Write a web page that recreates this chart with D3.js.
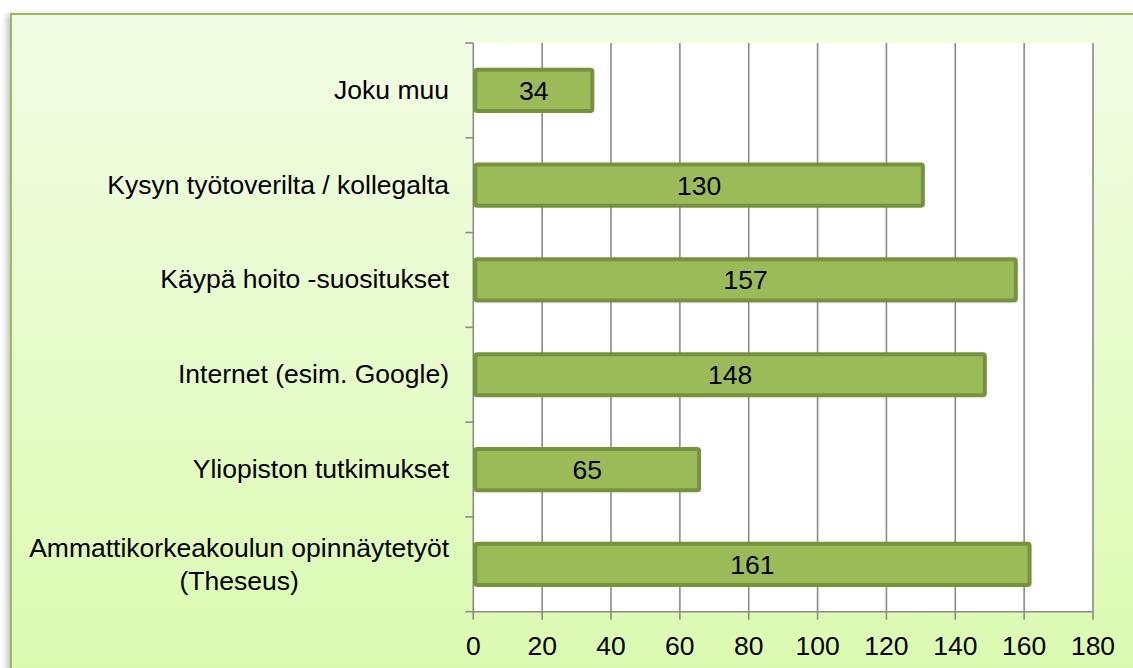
<!DOCTYPE html>
<html>
<head>
<meta charset="utf-8">
<script src="https://cdn.jsdelivr.net/npm/d3@7"></script>
<style>
  body { margin: 0; background: #fff; }
  svg { display: block; font-family: "Liberation Sans", Arial, sans-serif; }
</style>
</head>
<body>
<div id="chart"></div>
<script>
const categories = [
	["Joku muu"],
	["Kysyn työtoverilta / kollegalta"],
	["Käypä hoito -suositukset"],
	["Internet (esim. Google)"],
	["Yliopiston tutkimukset"],
	["Ammattikorkeakoulun opinnäytetyöt", "(Theseus)"]
]
const values = [34, 130, 157, 148, 65, 161]
const x_ticks = [0, 20, 40, 60, 80, 100, 120, 140, 160, 180]

const width = 1133
const height = 668
const plot_left = 473.3
const plot_right = 1093
const plot_top = 43
const plot_bottom = 611.7
const font_size = 26.5

var svg = d3.select("#chart")
	.append("svg")
	.attr("width", width)
	.attr("height", height)

var defs = svg.append("defs")
var grad = defs.append("linearGradient")
	.attr("id", "bg")
	.attr("x1", 0).attr("y1", 0).attr("x2", 0).attr("y2", 1)
grad.append("stop").attr("offset", "0%").attr("stop-color", "#F3FDE6")
grad.append("stop").attr("offset", "100%").attr("stop-color", "#DAFAAE")

var shadow = defs.append("filter").attr("id", "shadow")
	.attr("x", "-5%").attr("y", "-5%").attr("width", "110%").attr("height", "110%")
shadow.append("feDropShadow")
	.attr("dx", -3).attr("dy", 2).attr("stdDeviation", 3)
	.attr("flood-color", "#000").attr("flood-opacity", 0.25)

// outer frame
svg.append("rect")
	.attr("x", 11)
	.attr("y", 14)
	.attr("width", width + 20)
	.attr("height", height + 20)
	.attr("fill", "url(#bg)")
	.attr("stroke", "#9BBB59")
	.attr("stroke-width", 2)
	.attr("filter", "url(#shadow)")

var x = d3.scaleLinear()
	.domain([0, 180])
	.range([plot_left, plot_right])

var y = d3.scaleBand()
	.domain(d3.range(categories.length))
	.range([plot_top, plot_bottom])
	.paddingInner(0.565)
	.paddingOuter(0.2825)

// plot area
svg.append("rect")
	.attr("x", plot_left)
	.attr("y", plot_top)
	.attr("width", plot_right - plot_left)
	.attr("height", plot_bottom - plot_top)
	.attr("fill", "#fff")

// vertical grid lines
svg.selectAll(".gridline")
	.data(x_ticks)
	.enter().append("line")
	.attr("class", "gridline")
	.attr("x1", d => x(d))
	.attr("x2", d => x(d))
	.attr("y1", plot_top)
	.attr("y2", plot_bottom + 8)
	.style("stroke", "#8A8A8A")
	.style("stroke-width", "1.6px")

// x axis line
svg.append("line")
	.attr("x1", plot_left)
	.attr("x2", plot_right)
	.attr("y1", plot_bottom)
	.attr("y2", plot_bottom)
	.style("stroke", "#8A8A8A")
	.style("stroke-width", "1.6px")

// category axis ticks
var band_step = (plot_bottom - plot_top) / categories.length
svg.selectAll(".ytick")
	.data(d3.range(categories.length + 1))
	.enter().append("line")
	.attr("class", "ytick")
	.attr("x1", plot_left - 8)
	.attr("x2", plot_left)
	.attr("y1", d => plot_top + d * band_step)
	.attr("y2", d => plot_top + d * band_step)
	.style("stroke", "#8A8A8A")
	.style("stroke-width", "1.6px")

// x tick labels
svg.selectAll(".xlabel")
	.data(x_ticks)
	.enter().append("text")
	.attr("class", "xlabel")
	.attr("x", d => x(d))
	.attr("y", 654.5)
	.attr("text-anchor", "middle")
	.attr("font-size", font_size + "px")
	.attr("fill", "#000")
	.text(d => d)

// bars
svg.selectAll(".bar")
	.data(values)
	.enter().append("rect")
	.attr("class", "bar")
	.attr("x", x(0) + 2)
	.attr("y", (d, i) => y(i))
	.attr("width", d => x(d) - x(0))
	.attr("height", y.bandwidth())
	.attr("rx", 2)
	.attr("fill", "#9BBB59")
	.attr("stroke", "#76923C")
	.attr("stroke-width", 4)

// value labels
svg.selectAll(".value")
	.data(values)
	.enter().append("text")
	.attr("class", "value")
	.attr("x", d => x(0) + 2 + (x(d) - x(0)) / 2)
	.attr("y", (d, i) => y(i) + y.bandwidth() / 2 + 9.5)
	.attr("text-anchor", "middle")
	.attr("font-size", font_size + "px")
	.attr("fill", "#000")
	.text(d => d)

// category labels
var label_right = 449
var label_line = 33
categories.forEach((lines, i) => {
	var cy = y(i) + y.bandwidth() / 2
	var g = svg.append("text")
		.attr("font-size", font_size + "px")
		.attr("fill", "#000")
	if (lines.length == 1) {
		g.attr("x", label_right)
			.attr("y", cy + 8.5)
			.attr("text-anchor", "end")
			.text(lines[0])
	} else {
		// measure widest line, centre the block under it
		let tmp = svg.append("text").attr("font-size", font_size + "px").text(lines[0])
		let w = tmp.node().getComputedTextLength()
		tmp.remove()
		let cx = label_right - w / 2
		let start_y = cy + 9 - (lines.length - 1) * label_line / 2
		g.attr("text-anchor", "middle")
		g.selectAll("tspan")
			.data(lines)
			.enter().append("tspan")
			.attr("x", cx)
			.attr("y", (d, j) => start_y + j * label_line)
			.text(d => d)
	}
})
</script>
</body>
</html>
